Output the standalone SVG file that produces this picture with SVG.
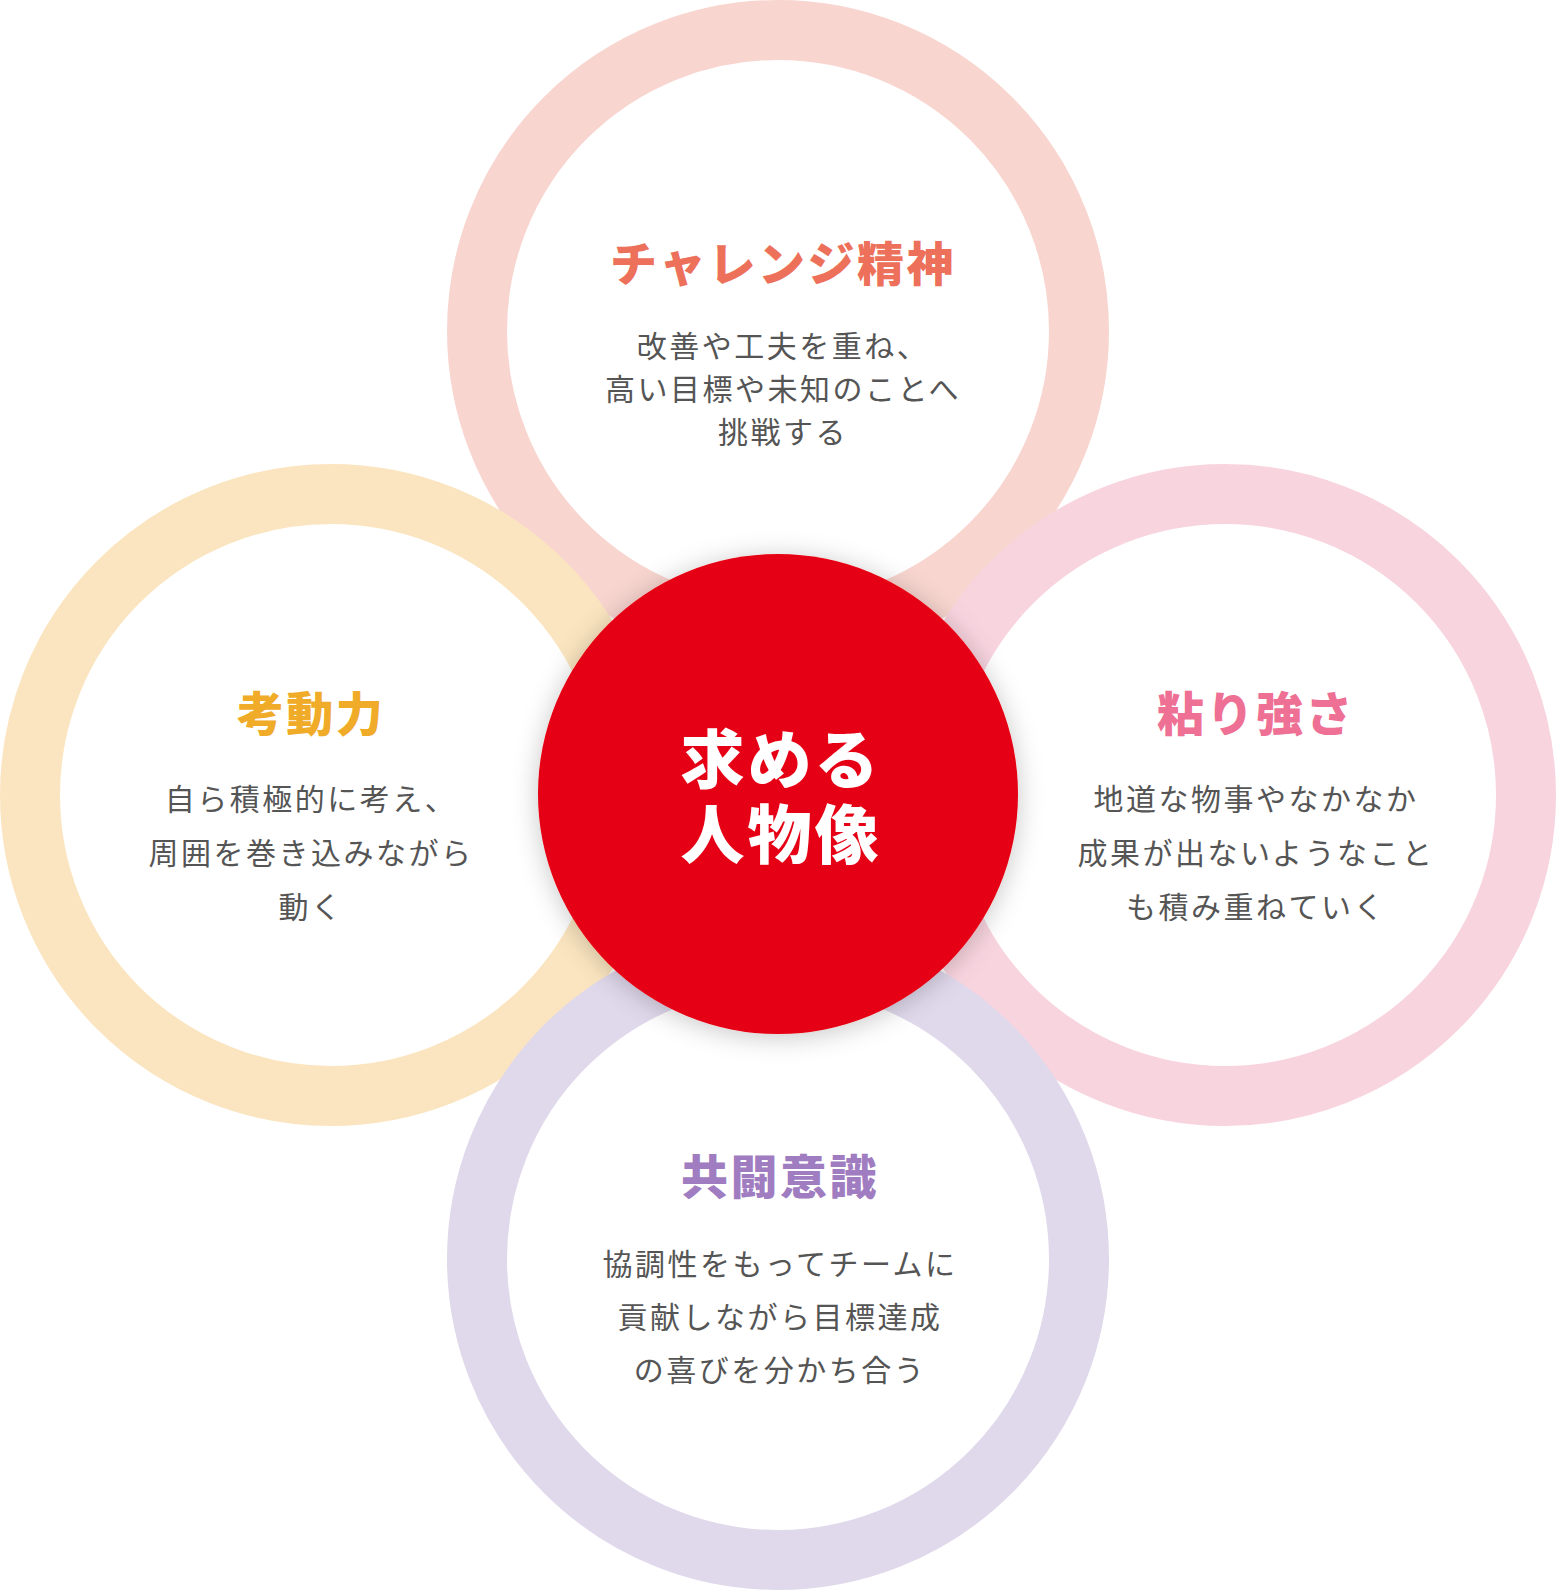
<svg xmlns="http://www.w3.org/2000/svg" width="1556" height="1590" viewBox="0 0 1556 1590">
  <style>
    .ring { fill: none; stroke-width: 60; }
    .title { font-family: "Noto Sans CJK JP", "Noto Sans", sans-serif; font-weight: 900; font-size: 47px; letter-spacing: 2.5px; text-anchor: middle; }
    .body { font-family: "Noto Sans CJK JP", "Noto Sans", sans-serif; font-weight: 400; font-size: 30px; letter-spacing: 2.5px; fill: #555555; text-anchor: middle; }
    .core { font-family: "Noto Sans CJK JP", "Noto Sans", sans-serif; font-weight: 900; font-size: 64px; letter-spacing: 3px; fill: #ffffff; text-anchor: middle; }
  </style>
  <defs>
    <filter id="shadow" x="-30%" y="-30%" width="160%" height="160%">
      <feDropShadow dx="0" dy="3" stdDeviation="13" flood-color="#000000" flood-opacity="0.22"/>
    </filter>
  </defs>
  <rect x="0" y="0" width="1556" height="1590" fill="#ffffff"/>

  <g id="node-challenge">
    <circle class="ring" cx="778" cy="331" r="301" stroke="#f8d5cf"/>
  </g>
  <g id="node-koudou">
    <circle class="ring" cx="331" cy="795" r="301" stroke="#fbe5c0"/>
  </g>
  <g id="node-nebari">
    <circle class="ring" cx="1225" cy="795" r="301" stroke="#f8d4df"/>
  </g>
  <g id="node-kyoutou">
    <circle class="ring" cx="778" cy="1259" r="301" stroke="#e0d8eb"/>
  </g>

  <g id="node-center">
    <circle cx="778" cy="794" r="240" fill="#e60012" filter="url(#shadow)"/>
    <text class="core" x="781" y="783">求める</text>
    <text class="core" x="781" y="858">人物像</text>
  </g>

  <g id="text-challenge">
    <text class="title" x="783" y="281" fill="#ec705a">チャレンジ精神</text>
    <text class="body" x="783" y="357">改善や工夫を重ね、</text>
    <text class="body" x="783" y="400">高い目標や未知のことへ</text>
    <text class="body" x="783" y="443">挑戦する</text>
  </g>
  <g id="text-koudou">
    <text class="title" x="311" y="731" fill="#f0ab29">考動力</text>
    <text class="body" x="311" y="810">自ら積極的に考え、</text>
    <text class="body" x="311" y="864">周囲を巻き込みながら</text>
    <text class="body" x="311" y="918">動く</text>
  </g>
  <g id="text-nebari">
    <text class="title" x="1256" y="731" fill="#ee7094">粘り強さ</text>
    <text class="body" x="1256" y="810">地道な物事やなかなか</text>
    <text class="body" x="1256" y="864">成果が出ないようなこと</text>
    <text class="body" x="1256" y="918">も積み重ねていく</text>
  </g>
  <g id="text-kyoutou">
    <text class="title" x="780" y="1194" fill="#a07cc0">共闘意識</text>
    <text class="body" x="780" y="1275">協調性をもってチームに</text>
    <text class="body" x="780" y="1328">貢献しながら目標達成</text>
    <text class="body" x="780" y="1381">の喜びを分かち合う</text>
  </g>
</svg>
